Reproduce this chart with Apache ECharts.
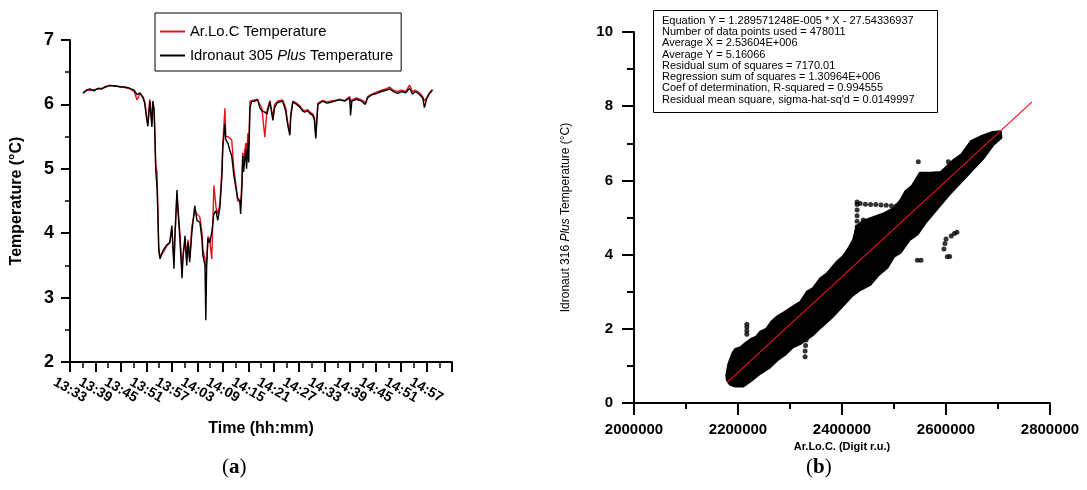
<!DOCTYPE html>
<html>
<head>
<meta charset="utf-8">
<script src="https://cdn.jsdelivr.net/npm/echarts@6/dist/echarts.min.js"></script>
<style>html,body{margin:0;padding:0;background:#fff;}#c{width:1087px;height:490px;}</style>
</head>
<body>
<div id="c"></div>
<script>
// ---------- Panel (a): time series ----------
// minutes after 13:33
var timeMin = [
 3.06, 4.0, 4.7, 5.65, 6.6, 7.5, 8.5, 9.4, 10.6, 11.8,
 12.9, 14.1, 15.1, 15.8, 16.5, 17.2, 17.6, 18.1, 18.35, 18.8,
 19.3, 19.5, 19.8, 20.0, 20.2, 20.5, 20.7, 20.9, 21.2, 21.6,
 22.1, 22.8, 23.5, 24.0, 24.5, 24.7, 25.2, 25.4, 25.9, 26.4,
 26.6, 27.1, 27.5, 27.8, 28.2, 28.7, 29.4, 29.9, 30.6, 31.1,
 31.3, 31.8, 32.0, 32.2, 32.5, 32.9, 33.4, 33.9, 34.4, 34.8,
 35.3, 35.8, 36.0, 36.5, 36.7, 37.2, 37.6, 38.1, 38.6, 39.1,
 39.5, 40.0, 40.2, 40.5, 40.7, 40.9, 41.4, 41.6, 41.9, 42.1,
 42.4, 42.8, 43.5, 44.2, 44.7, 45.2, 45.9, 46.4, 47.1, 47.8,
 48.2, 48.9, 50.1, 50.8, 51.3, 51.8, 52.0, 52.5, 53.4, 54.1,
 54.8, 55.3, 56.0, 56.5, 57.2, 57.6, 57.9, 58.4, 59.5, 60.5,
 61.2, 62.4, 63.5, 64.7, 65.9, 66.1, 66.4, 67.5, 68.7, 69.6,
 70.1, 71.1, 72.2, 73.4, 74.4, 75.3, 76.2, 77.2, 78.1, 79.1,
 80.0, 80.7, 81.4, 82.4, 83.1, 83.5, 84.0, 84.7, 85.4
];
var idronautTemp = [
 6.18, 6.22, 6.24, 6.21, 6.25, 6.24, 6.28, 6.29, 6.29, 6.27,
 6.27, 6.25, 6.22, 6.15, 6.18, 6.10, 6.02, 5.75, 5.66, 6.05,
 5.65, 6.05, 5.90, 5.50, 4.98, 4.72, 4.30, 3.75, 3.60, 3.68,
 3.75, 3.82, 3.85, 4.12, 3.45, 3.90, 4.67, 4.39, 3.90, 3.30,
 3.60, 3.96, 3.50, 3.86, 3.55, 4.00, 4.43, 4.20, 4.17, 3.90,
 3.66, 3.50, 2.65, 3.50, 3.92, 3.85, 4.01, 4.30, 4.35, 4.20,
 4.39, 4.90, 5.32, 5.70, 5.45, 5.40, 5.30, 5.20, 4.90, 4.70,
 4.55, 4.50, 4.30, 4.70, 5.20, 4.95, 5.30, 5.00, 5.40, 5.10,
 5.95, 6.05, 6.05, 6.07, 5.95, 5.90, 5.88, 5.85, 6.04, 5.75,
 5.95, 6.03, 6.05, 5.90, 5.68, 5.52, 5.80, 6.04, 6.00, 5.96,
 5.90, 5.88, 5.90, 5.86, 5.83, 5.75, 5.47, 6.00, 6.05, 6.02,
 6.03, 6.05, 6.07, 6.05, 6.10, 5.83, 6.05, 6.08, 6.05, 6.00,
 6.10, 6.15, 6.17, 6.20, 6.22, 6.24, 6.20, 6.17, 6.20, 6.18,
 6.25, 6.16, 6.20, 6.15, 6.10, 5.95, 6.08, 6.17, 6.22
];
var arlocTemp = [
 6.17, 6.23, 6.22, 6.23, 6.24, 6.25, 6.27, 6.30, 6.28, 6.28,
 6.26, 6.24, 6.20, 6.07, 6.17, 6.12, 6.05, 5.80, 5.70, 6.08,
 5.70, 6.05, 5.95, 5.60, 5.05, 4.95, 4.40, 3.80, 3.62, 3.60,
 3.72, 3.80, 3.86, 4.05, 3.55, 3.95, 4.60, 4.45, 4.00, 3.40,
 3.65, 3.90, 3.60, 3.90, 3.62, 4.10, 4.35, 4.30, 4.25, 4.00,
 3.75, 3.60, 3.45, 3.55, 3.95, 3.90, 3.60, 4.74, 4.40, 4.30,
 4.45, 5.00, 5.40, 5.94, 5.50, 5.50, 5.50, 5.45, 5.00, 4.75,
 4.50, 4.50, 4.45, 4.80, 5.25, 5.10, 5.40, 5.20, 5.55, 5.30,
 6.05, 6.07, 6.07, 6.08, 6.00, 5.95, 5.49, 5.90, 6.06, 5.80,
 6.00, 6.05, 6.07, 5.95, 5.72, 5.55, 5.85, 6.05, 6.02, 5.98,
 5.92, 5.90, 5.92, 5.88, 5.85, 5.80, 5.50, 6.02, 6.06, 6.04,
 6.05, 6.06, 6.08, 6.06, 6.12, 6.02, 6.07, 6.10, 6.07, 6.03,
 6.12, 6.16, 6.19, 6.22, 6.24, 6.27, 6.22, 6.20, 6.22, 6.20,
 6.30, 6.20, 6.22, 6.18, 6.12, 6.05, 6.10, 6.18, 6.23
];
var timeTickLabels = ['13:33','13:39','13:45','13:51','13:57','14:03','14:09','14:15',
  '14:21','14:27','14:33','14:39','14:45','14:51','14:57'];
var seriesNames = ['Ar.Lo.C Temperature', 'Idronaut 305 Plus Temperature'];

// ---------- Panel (b): regression scatter ----------
// outline of the dense point cloud (upper edge, then lower edge back)
var cloudX = [
 2178000, 2182000, 2190000, 2195000, 2205000, 2215000, 2225000, 2235000, 2243000, 2255000,
 2265000, 2275000, 2290000, 2306000, 2320000, 2333000, 2345000, 2358000, 2372000, 2390000,
 2402000, 2412000, 2422000, 2428000, 2440000, 2460000, 2480000, 2500000, 2512000, 2522000,
 2535000, 2550000, 2570000, 2590000, 2600000, 2615000, 2630000, 2648000, 2670000, 2690000,
 2705000,
 2706000, 2690000, 2672000, 2655000, 2635000, 2618000, 2605000, 2590000, 2575000, 2560000,
 2545000, 2530000, 2512000, 2500000, 2487000, 2470000, 2455000, 2435000, 2420000, 2400000,
 2380000, 2360000, 2345000, 2320000, 2305000, 2290000, 2275000, 2260000, 2243000, 2225000,
 2210000, 2195000, 2185000, 2179000
];
var cloudY = [
 0.75, 1.05, 1.35, 1.45, 1.50, 1.62, 1.72, 1.78, 1.92, 2.00,
 2.20, 2.32, 2.45, 2.60, 2.72, 3.00, 3.10, 3.35, 3.50, 3.80,
 3.95, 4.15, 4.40, 4.75, 4.90, 5.00, 5.10, 5.25, 5.45, 5.70,
 5.85, 6.20, 6.20, 6.22, 6.35, 6.55, 6.70, 7.05, 7.20, 7.30,
 7.32,
 7.15, 6.95, 6.60, 6.35, 6.05, 5.80, 5.60, 5.35, 5.10, 4.85,
 4.55, 4.40, 4.05, 3.95, 3.65, 3.45, 3.20, 3.05, 2.90, 2.60,
 2.30, 2.05, 1.85, 1.60, 1.50, 1.30, 1.15, 0.95, 0.80, 0.60,
 0.45, 0.45, 0.50, 0.62
];
// isolated points / trails outside the main cloud
var outlierX = [
 2429000, 2429000, 2429000, 2429000, 2429000, 2429000, 2429000,
 2435000, 2445000, 2455000, 2465000, 2475000, 2485000, 2495000, 2505000,
 2441000, 2441000, 2441000, 2452000, 2462000, 2470000,
 2546700, 2604500,
 2596000, 2598000, 2600000, 2610000, 2616000, 2621000, 2602500, 2607000, 2545000, 2552000,
 2217000, 2217000, 2217000, 2217000,
 2329000, 2329000, 2330000, 2331000, 2331000
];
var outlierY = [
 4.60, 4.75, 4.90, 5.05, 5.20, 5.35, 5.42,
 5.38, 5.36, 5.35, 5.35, 5.34, 5.33, 5.32, 5.32,
 4.65, 4.80, 4.93, 4.62, 4.60, 4.65,
 6.50, 6.50,
 4.15, 4.30, 4.42, 4.50, 4.57, 4.60, 3.94, 3.95, 3.85, 3.85,
 1.85, 1.95, 2.05, 2.12,
 1.25, 1.40, 1.55, 1.70, 1.85
];
var fitX = [2180000, 2765000];
var fitY = [0.57, 8.11];
var statsLines = [
 "Equation Y = 1.289571248E-005 * X - 27.54336937",
 "Number of data points used = 478011",
 "Average X = 2.53604E+006",
 "Average Y = 5.16066",
 "Residual sum of squares = 7170.01",
 "Regression sum of squares = 1.30964E+006",
 "Coef of determination, R-squared = 0.994555",
 "Residual mean square, sigma-hat-sq'd = 0.0149997"
];

// ---------- build ----------
var RED = '#e8131a';
var FONT = 'Liberation Sans, Arial, sans-serif';
var LINE_ICON = 'path://M0,0L0,0M0,6L25,6L25,8L0,8ZM25,14L25,14';
function zip(a, b) { return a.map(function (v, i) { return [v, b[i]]; }); }

var chart = echarts.init(document.getElementById('c'), null, { renderer: 'canvas' });
var axisLine = { show: true, lineStyle: { color: '#000', width: 2 } };

// time labels split over two overlaid axes (even / odd ticks) so that none is dropped
function timeAxis(parity, visible) {
  return { type: 'value', gridIndex: 0, min: 0, max: 90, interval: 6, position: 'bottom',
    name: visible ? 'Time (hh:mm)' : '', nameLocation: 'middle', nameGap: 59,
    nameTextStyle: { fontFamily: FONT, fontSize: 16, fontWeight: 'bold', color: '#000' },
    axisLine: visible ? axisLine : { show: false },
    axisTick: { show: visible, length: 10, lineStyle: { color: '#000', width: 2 } },
    minorTick: { show: visible, splitNumber: 2, length: 6, lineStyle: { color: '#000', width: 1.5 } },
    splitLine: { show: false },
    axisLabel: { rotate: -30, align: 'center', verticalAlign: 'middle', margin: 28,
      fontFamily: FONT, fontSize: 14, fontWeight: 'bold', color: '#000',
      showMinLabel: true, showMaxLabel: true,
      formatter: function (v) {
        var k = Math.round(v / 6);
        return (k % 2 === parity && timeTickLabels[k]) ? timeTickLabels[k] : '';
      } }
  };
}

var option = {
  backgroundColor: '#fff',
  animation: false,
  legend: {
    left: 155, top: 13, orient: 'vertical',
    itemWidth: 25, itemHeight: 14, itemGap: 9,
    padding: [11, 8, 8, 5],
    borderColor: '#000', borderWidth: 1, borderRadius: 0,
    icon: LINE_ICON,
    data: seriesNames.map(function (n) { return { name: n, icon: LINE_ICON }; }),
    textStyle: { fontFamily: FONT, fontSize: 14.8, color: '#000',
      rich: { i: { fontFamily: FONT, fontSize: 14.8, fontStyle: 'italic', color: '#000' } } },
    formatter: function (n) { return n.replace('Plus', '{i|Plus}'); }
  },
  grid: [
    { left: 70, top: 40, width: 382, height: 322 },
    { left: 634, top: 32, width: 416, height: 371 }
  ],
  xAxis: [
    timeAxis(0, true),
    timeAxis(1, false),
    { type: 'value', gridIndex: 1, min: 2000000, max: 2800000, interval: 200000,
      name: 'Ar.Lo.C. (Digit r.u.)', nameLocation: 'middle', nameGap: 37,
      nameTextStyle: { fontFamily: FONT, fontSize: 11, fontWeight: 'bold', color: '#000' },
      axisLine: axisLine,
      axisTick: { show: true, length: 12, lineStyle: { color: '#000', width: 2 } },
      minorTick: { show: true, splitNumber: 2, length: 6, lineStyle: { color: '#000', width: 2 } },
      splitLine: { show: false },
      axisLabel: { margin: 19, fontFamily: FONT, fontSize: 15, fontWeight: 'bold', color: '#000',
        showMinLabel: true, showMaxLabel: true,
        formatter: function (v) { return String(v); } }
    }
  ],
  yAxis: [
    { type: 'value', gridIndex: 0, min: 2, max: 7, interval: 1,
      name: 'Temperature (°C)', nameLocation: 'middle', nameGap: 45,
      nameTextStyle: { fontFamily: FONT, fontSize: 16, fontWeight: 'bold', color: '#000' },
      axisLine: axisLine,
      axisTick: { show: true, length: 9, lineStyle: { color: '#000', width: 2 } },
      minorTick: { show: true, splitNumber: 2, length: 5, lineStyle: { color: '#000', width: 1.5 } },
      splitLine: { show: false },
      axisLabel: { margin: 16, fontFamily: FONT, fontSize: 18, fontWeight: 'bold', color: '#000' }
    },
    { type: 'value', gridIndex: 1, min: 0, max: 10, interval: 2,
      name: 'Idronaut 316 {i|Plus} Temperature (°C)', nameLocation: 'middle', nameGap: 62,
      nameTextStyle: { fontFamily: FONT, fontSize: 12, color: '#000',
        rich: { i: { fontFamily: FONT, fontSize: 12, fontStyle: 'italic', color: '#000' } } },
      axisLine: axisLine,
      axisTick: { show: true, length: 12, lineStyle: { color: '#000', width: 2 } },
      minorTick: { show: true, splitNumber: 2, length: 7, lineStyle: { color: '#000', width: 2 } },
      splitLine: { show: false },
      axisLabel: { margin: 21, fontFamily: FONT, fontSize: 15, fontWeight: 'bold', color: '#000' }
    }
  ],
  series: [
    { name: seriesNames[0], type: 'line', xAxisIndex: 0, yAxisIndex: 0,
      data: zip(timeMin, arlocTemp), symbol: 'none', showSymbol: false, color: RED,
      lineStyle: { color: RED, width: 1.4 }, z: 2 },
    { name: seriesNames[1], type: 'line', xAxisIndex: 0, yAxisIndex: 0,
      data: zip(timeMin, idronautTemp), symbol: 'none', showSymbol: false, color: '#000',
      lineStyle: { color: '#000', width: 1.4 }, z: 3 },
    { type: 'custom', xAxisIndex: 2, yAxisIndex: 1, silent: true,
      data: [[cloudX[0], cloudY[0]]],
      renderItem: function (params, api) {
        var pts = cloudX.map(function (x, i) { return api.coord([x, cloudY[i]]); });
        return { type: 'polygon', shape: { points: pts },
          style: { fill: '#000', stroke: '#000', lineWidth: 2.5, lineJoin: 'round' } };
      }, z: 2 },
    { type: 'scatter', xAxisIndex: 2, yAxisIndex: 1, silent: true,
      data: zip(outlierX, outlierY), symbol: 'circle', symbolSize: 5,
      itemStyle: { color: '#000' }, z: 2 },
    { type: 'line', xAxisIndex: 2, yAxisIndex: 1, silent: true,
      data: zip(fitX, fitY), symbol: 'none',
      lineStyle: { color: RED, width: 1.2 }, z: 5 }
  ],
  graphic: [
    { type: 'rect', left: 653, top: 10, shape: { width: 284, height: 102 },
      style: { fill: '#fff', stroke: '#000', lineWidth: 1 }, z: 10 },
    { type: 'text', left: 662, top: 15, z: 11,
      style: { text: statsLines.join('\n'), font: '11px ' + FONT, fill: '#000', lineHeight: 11.3 } },
    { type: 'text', left: 222, top: 457, z: 11,
      style: { text: '({b|a})', font: '21px Liberation Serif, serif', fill: '#000',
        rich: { b: { font: 'bold 21px Liberation Serif, serif', fill: '#000' } } } },
    { type: 'text', left: 806, top: 457, z: 11,
      style: { text: '({b|b})', font: '21px Liberation Serif, serif', fill: '#000',
        rich: { b: { font: 'bold 21px Liberation Serif, serif', fill: '#000' } } } }
  ]
};
chart.setOption(option);
</script>
</body>
</html>
